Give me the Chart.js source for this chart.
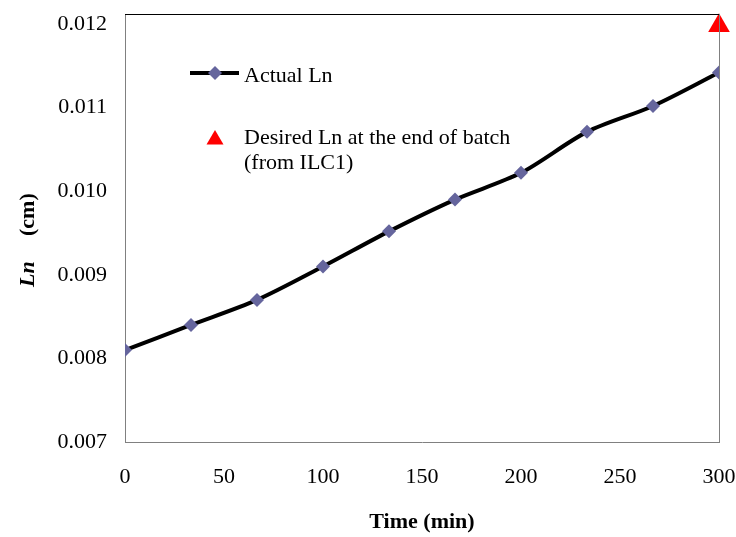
<!DOCTYPE html>
<html>
<head>
<meta charset="utf-8">
<script src="https://cdn.jsdelivr.net/npm/chart.js@4"></script>
<style>
  html, body { margin: 0; padding: 0; background: #fff; }
  #wrap { width: 736px; height: 537px; }
</style>
</head>
<body>
<div id="wrap"><canvas id="grafico"></canvas></div>
<script>
// datos
const tiempo = [0, 33.33, 66.67, 100, 133.33, 166.67, 200, 233.33, 266.67, 300];
const lnActual = [0.0081, 0.0084, 0.0087, 0.0091, 0.00952, 0.0099, 0.01022, 0.01071, 0.01102, 0.01142];
const tiempoDeseado = [300];
const lnDeseado = [0.01198];
const yTicks = [0.007, 0.008, 0.009, 0.010, 0.011, 0.012];
const xTicks = [0, 50, 100, 150, 200, 250, 300];

const serif = "'Liberation Serif', 'Times New Roman', serif";
const colorRombo = '#65659d';

// leyenda y titulo del eje y dibujados a mano
const extras = {
    id: 'extras',
    afterDraw(chart) {
        const ctx = chart.ctx;
        const a = chart.chartArea;
        ctx.save();
        // borde superior y derecho del area
        ctx.strokeStyle = '#000';
        ctx.lineWidth = 1;
        ctx.beginPath();
        ctx.moveTo(a.left, a.top + 0.5);
        ctx.lineTo(a.right, a.top + 0.5);
        ctx.stroke();
        ctx.strokeStyle = '#808080';
        ctx.beginPath();
        ctx.moveTo(a.right + 0.5, a.top);
        ctx.lineTo(a.right + 0.5, a.bottom);
        ctx.stroke();

        // leyenda
        ctx.strokeStyle = '#000';
        ctx.lineWidth = 4;
        ctx.beginPath();
        ctx.moveTo(190, 73);
        ctx.lineTo(239, 73);
        ctx.stroke();
        ctx.fillStyle = colorRombo;
        ctx.beginPath();
        ctx.moveTo(215 - 7, 73);
        ctx.lineTo(215, 73 - 7);
        ctx.lineTo(215 + 7, 73);
        ctx.lineTo(215, 73 + 7);
        ctx.closePath();
        ctx.fill();

        ctx.fillStyle = '#ff0000';
        ctx.beginPath();
        ctx.moveTo(215, 130);
        ctx.lineTo(223.5, 144.5);
        ctx.lineTo(206.5, 144.5);
        ctx.closePath();
        ctx.fill();

        ctx.fillStyle = '#000';
        ctx.font = '22px ' + serif;
        ctx.textAlign = 'left';
        ctx.textBaseline = 'alphabetic';
        ctx.fillText('Actual Ln', 244, 82);
        ctx.fillText('Desired Ln at the end of batch', 244, 144);
        ctx.fillText('(from ILC1)', 244, 169);

        // titulo eje y
        ctx.translate(28, 287);
        ctx.rotate(-Math.PI / 2);
        ctx.textBaseline = 'middle';
        ctx.font = 'italic bold 22px ' + serif;
        ctx.fillText('Ln', 0, 0);
        ctx.font = 'bold 22px ' + serif;
        ctx.fillText('(cm)', 51, 0);
        ctx.restore();
    }
};

const ctx = document.getElementById('grafico').getContext('2d');
window.chart = new Chart(ctx, {
    type: 'scatter',
    data: {
        datasets: [{
            label: 'Actual Ln',
            data: tiempo.map((t, i) => ({ x: t, y: lnActual[i] })),
            showLine: true,
            borderColor: '#000',
            borderWidth: 4,
            tension: 0.3,
            pointStyle: 'rectRot',
            pointRadius: 7,
            pointBackgroundColor: colorRombo,
            pointBorderColor: colorRombo,
            pointBorderWidth: 0,
            fill: false
        }, {
            label: 'Desired Ln at the end of batch (from ILC1)',
            data: tiempoDeseado.map((t, i) => ({ x: t, y: lnDeseado[i] })),
            showLine: false,
            pointStyle: 'triangle',
            pointRadius: 12.5,
            pointBackgroundColor: '#ff0000',
            pointBorderColor: '#ff0000',
            pointBorderWidth: 0,
            clip: false
        }]
    },
    options: {
        responsive: true,
        maintainAspectRatio: false,
        animation: false,
        layout: { padding: { top: 14, right: 17, left: 0, bottom: 0 } },
        plugins: {
            legend: { display: false },
            tooltip: { enabled: false }
        },
        scales: {
            x: {
                type: 'linear',
                min: 0,
                max: 300,
                afterBuildTicks: s => { s.ticks = xTicks.map(v => ({ value: v })); },
                afterFit: s => {
                    s.height = 95;
                    s.paddingLeft = 0;
                    s.paddingRight = 0;
                },
                grid: { display: false, drawTicks: false },
                border: { display: true, color: '#808080', width: 1 },
                ticks: { color: '#000', font: { family: serif, size: 22 }, padding: 22, maxRotation: 0 },
                title: {
                    display: true,
                    text: 'Time (min)',
                    color: '#000',
                    font: { family: serif, size: 22, weight: 'bold' },
                    padding: { top: 0, bottom: 1 }
                }
            },
            y: {
                type: 'linear',
                min: 0.007,
                max: 0.01212,
                afterBuildTicks: s => { s.ticks = yTicks.map(v => ({ value: v })); },
                afterFit: s => {
                    s.width = 125;
                    s.paddingTop = 0;
                    s.paddingBottom = 0;
                },
                grid: { display: false, drawTicks: false },
                border: { display: true, color: '#808080', width: 1 },
                ticks: {
                    color: '#000',
                    font: { family: serif, size: 22 },
                    padding: 18,
                    callback: v => v.toFixed(3)
                }
            }
        }
    },
    plugins: [extras]
});
</script>
</body>
</html>
